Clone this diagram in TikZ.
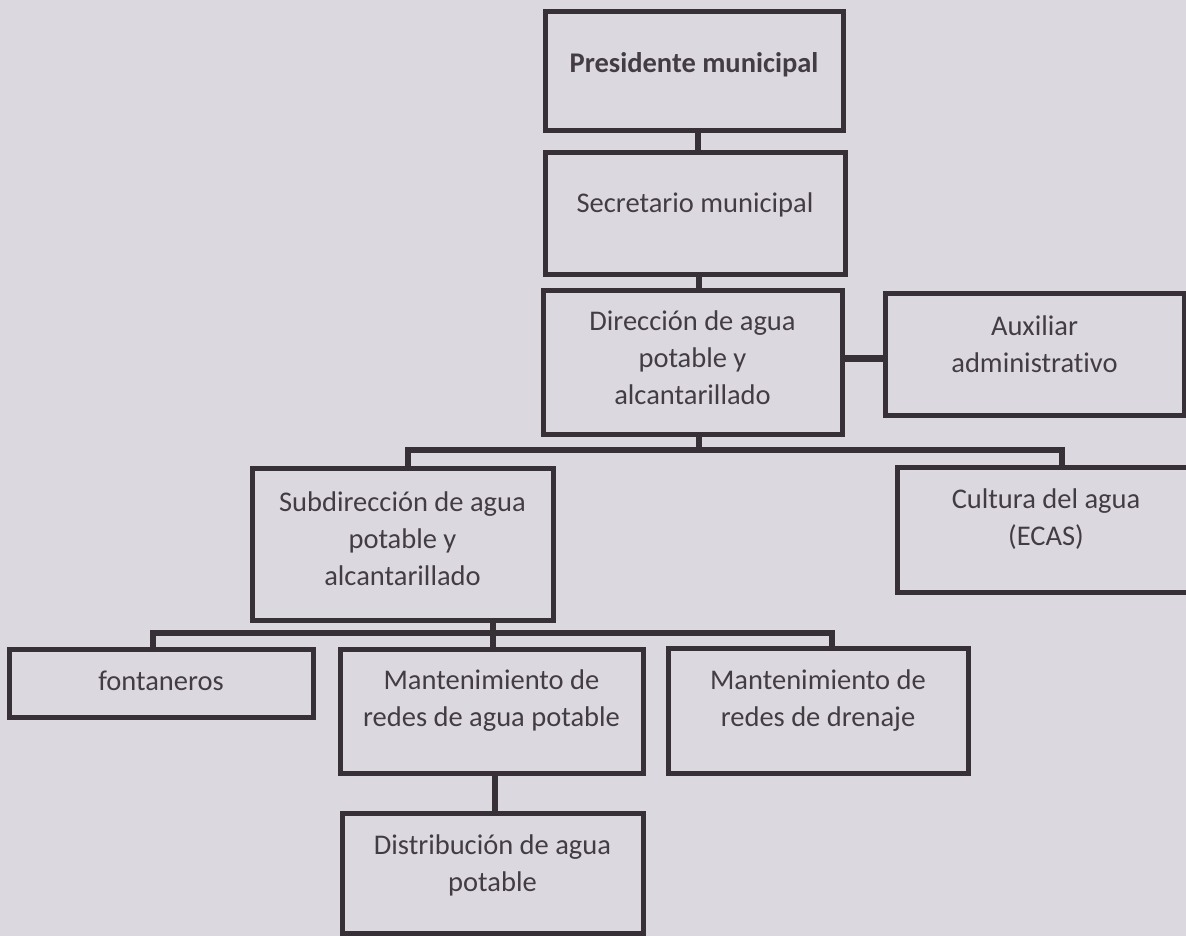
\documentclass[tikz,border=0pt]{standalone}
\usepackage{fontspec}
\setmainfont{Carlito}[Ligatures=NoCommon]
\definecolor{paper}{RGB}{219,217,223}
\definecolor{ink}{RGB}{56,48,55}
\definecolor{txt}{RGB}{68,60,68}
\tikzset{
  orgbox/.style={draw=ink, line width=5pt, rectangle, inner sep=0pt},
  orgtxt/.style={text=txt, align=center, inner sep=0pt, font=\fontsize{28.5}{37}\selectfont},
  link/.style={draw=ink, line width=5.5pt, line join=miter, line cap=rect}
}
\begin{document}
\begin{tikzpicture}[x=1pt,y=-1pt]
\fill[paper] (0,0) rectangle (1186,936);
\useasboundingbox (0,0) rectangle (1186,936);
% boxes
\node[orgbox, minimum width=298pt, minimum height=119pt] (pres) at (694,71.5) {};
\node[orgbox, minimum width=300pt, minimum height=121pt] (sec) at (695,213.5) {};
\node[orgbox, minimum width=299pt, minimum height=144pt] (dir) at (692.5,362) {};
\node[orgbox, minimum width=299pt, minimum height=122pt] (aux) at (1034.5,354) {};
\node[orgbox, minimum width=298pt, minimum height=125pt] (cult) at (1046,529.5) {};
\node[orgbox, minimum width=301pt, minimum height=152pt] (sub) at (402.5,544) {};
\node[orgbox, minimum width=304pt, minimum height=68pt] (font) at (161,683) {};
\node[orgbox, minimum width=303pt, minimum height=124pt] (mant) at (491.5,711) {};
\node[orgbox, minimum width=300pt, minimum height=125pt] (dren) at (818,710.5) {};
\node[orgbox, minimum width=301pt, minimum height=120pt] (dist) at (492.5,873) {};
% texts
\node[orgtxt, font=\fontsize{28.5}{37}\selectfont\bfseries] (pres-t) at (694,65) {Presidente municipal};
\node[orgtxt] (sec-t) at (695,205) {Secretario municipal};
\node[orgtxt] (dir-t) at (692.5,358) {Dirección de agua\\potable y\\alcantarillado};
\node[orgtxt] (aux-t) at (1034.5,344) {Auxiliar\\administrativo};
\node[orgtxt] (cult-t) at (1046,519) {Cultura del agua\\(ECAS)};
\node[orgtxt] (sub-t) at (402.5,539) {Subdirección de agua\\potable y\\alcantarillado};
\node[orgtxt] (font-t) at (161,681) {fontaneros};
\node[orgtxt] (mant-t) at (491.5,701) {Mantenimiento de\\redes de agua potable};
\node[orgtxt] (dren-t) at (818,701) {Mantenimiento de\\redes de drenaje};
\node[orgtxt] (dist-t) at (492.5,865) {Distribución de agua\\potable};
% connectors
\coordinate (b1) at (699,450);
\coordinate (b2) at (493,633);
\draw[link] ([xshift=4pt]pres.south) -- ([xshift=4pt]pres.south |- sec.north);
\draw[link] ([xshift=6.5pt]dir.north |- sec.south) -- ([xshift=6.5pt]dir.north);
\draw[link, line width=7pt] ([yshift=4pt]dir.east) -- ([yshift=4pt]dir.east -| aux.west);
\draw[link] ([xshift=6.5pt]dir.south) -- (b1);
\draw[link] ([xshift=5.5pt]sub.north) |- (b1) -| ([xshift=16pt]cult.north);
\draw[link] (sub.south -| b2) -- (b2);
\draw[link] ([xshift=-8pt]font.north) |- (b2) -| ([xshift=14pt]dren.north);
\draw[link] (b2) -- (mant.north -| b2);
\draw[link] ([xshift=3.5pt]mant.south) -- ([xshift=3.5pt]mant.south |- dist.north);
\end{tikzpicture}
\end{document}
